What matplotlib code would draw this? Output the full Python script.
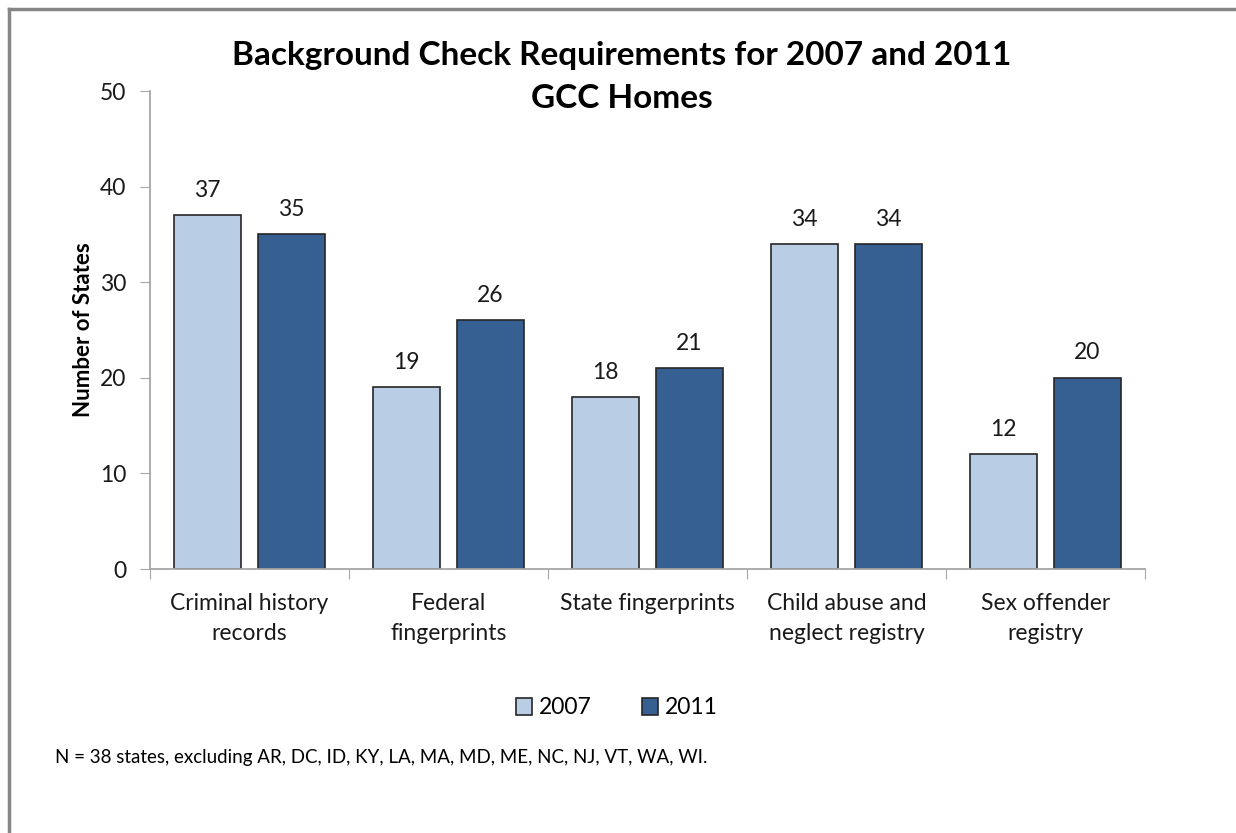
import numpy as np
import matplotlib.pyplot as plt
from matplotlib.lines import Line2D

plt.rcParams['font.family'] = ['Lato', 'DejaVu Sans']

categories = ["Criminal history\nrecords", "Federal\nfingerprints", "State fingerprints",
              "Child abuse and\nneglect registry", "Sex offender\nregistry"]
vals_2007 = [37, 19, 18, 34, 12]
vals_2011 = [35, 26, 21, 34, 20]

c07 = "#B9CDE5"
c11 = "#376092"
edge = "#262626"
axcol = "#A6A6A6"

fig = plt.figure(figsize=(12.36, 8.33), dpi=100)
ax = fig.add_axes([150/1236, 1-569/833, 995/1236, 478/833])

x = np.arange(len(categories))
w = 0.335
b1 = ax.bar(x - 0.21, vals_2007, w, color=c07, edgecolor=edge, linewidth=1.2, label="2007")
b2 = ax.bar(x + 0.21, vals_2011, w, color=c11, edgecolor=edge, linewidth=1.2, label="2011")
for bars in (b1, b2):
    for r in bars:
        ax.text(r.get_x() + r.get_width()/2, r.get_height() + 1.5, str(int(r.get_height())),
                ha='center', va='bottom', fontsize=16.5, color='#1a1a1a')

ax.set_xlim(-0.5, len(categories) - 0.5)
ax.set_ylim(0, 50)
ax.set_yticks(range(0, 51, 10))
ax.set_xticks(np.arange(-0.5, len(categories), 1.0))
ax.set_xticklabels([])
ax.set_xticks(x, minor=True)
ax.set_xticklabels(categories, minor=True, fontsize=16.5, color='#1a1a1a', linespacing=1.55)
ax.tick_params(axis='x', which='minor', length=0, pad=17)
ax.tick_params(axis='x', which='major', length=7, color=axcol, direction='out')
ax.tick_params(axis='y', length=7, color=axcol, labelsize=16.5, labelcolor='#1a1a1a', pad=10)
for s in ['top', 'right']:
    ax.spines[s].set_visible(False)
for s in ['left', 'bottom']:
    ax.spines[s].set_color(axcol)
    ax.spines[s].set_linewidth(1.3)

ax.set_ylabel("Number of States", fontsize=16, fontweight='bold', labelpad=4)

fig.text(622/1236, 1-55/833, "Background Check Requirements for 2007 and 2011",
         ha='center', va='center', fontsize=24, fontweight='bold')
fig.text(622/1236, 1-98/833, "GCC Homes", ha='center', va='center', fontsize=24, fontweight='bold')

fig.legend(handles=[b1, b2], labels=["2007", "2011"], loc='center', bbox_to_anchor=(617/1236, 1-708/833),
           ncol=2, frameon=False, fontsize=16.5, handlelength=0.7, handleheight=0.7,
           handletextpad=0.3, columnspacing=2.2)

fig.text(55/1236, 1-758/833, "N = 38 states, excluding AR, DC, ID, KY, LA, MA, MD, ME, NC, NJ, VT, WA, WI.",
         ha='left', va='center', fontsize=13.5)

# frame lines on top and left edge
fig.add_artist(Line2D([9/1236, 1], [1-9/833, 1-9/833], color='#868686', lw=2.5, transform=fig.transFigure))
fig.add_artist(Line2D([9/1236, 9/1236], [0, 1-9/833], color='#868686', lw=2.5, transform=fig.transFigure))

fig.savefig("out.png", dpi=100)
